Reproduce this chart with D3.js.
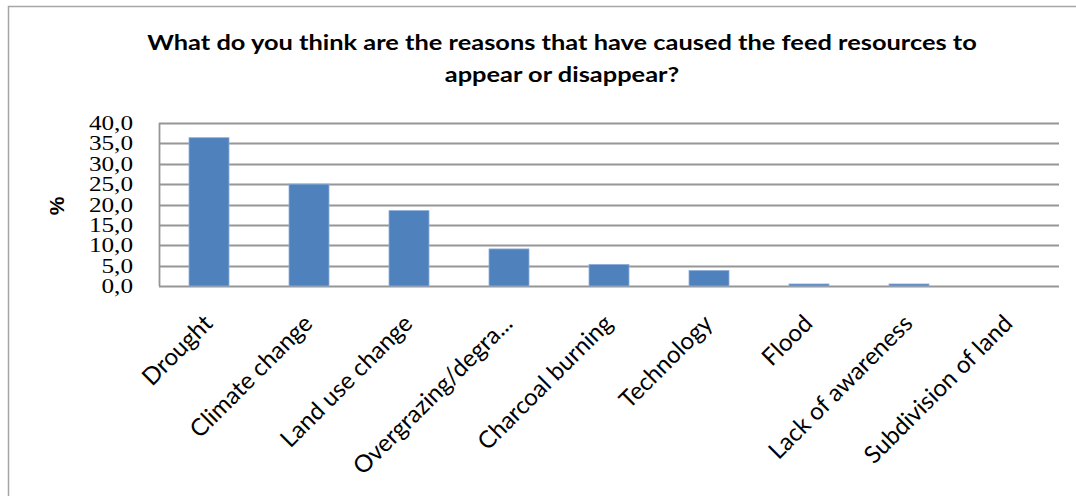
<!DOCTYPE html>
<html>
<head>
<meta charset="utf-8">
<script src="https://cdn.jsdelivr.net/npm/d3@7"></script>
<style>
  html, body { margin: 0; padding: 0; background: #fff; }
  svg { display: block; }
</style>
</head>
<body>
<svg id="chart" width="1076" height="496"></svg>
<script>
const categories = ["Drought", "Climate change", "Land use change", "Overgrazing/degra...", "Charcoal burning", "Technology", "Flood", "Lack of awareness", "Subdivision of land"];
const values = [36.4, 25.0, 18.5, 9.1, 5.3, 3.8, 0.5, 0.5, 0.0];
const yTicks = [0, 5, 10, 15, 20, 25, 30, 35, 40];
const titleLines = ["What do you think are the reasons that have caused the feed resources to", "appear or disappear?"];
const yAxisTitle = "%";

const svg = d3.select("#chart");
const W = 1076, H = 496;
const plot = { left: 159, right: 1059, top: 123, bottom: 286 };

// outer chart border
svg.append("rect")
  .attr("x", 8.5).attr("y", 6.5)
  .attr("width", W + 20).attr("height", H + 20)
  .attr("fill", "#fff").attr("stroke", "#a6a6a6").attr("stroke-width", 1.5);

const x = d3.scaleBand().domain(categories).range([plot.left, plot.right])
  .paddingInner(0.6).paddingOuter(0.3);
const y = d3.scaleLinear().domain([0, 40]).range([plot.bottom, plot.top]);

// gridlines
svg.append("g").selectAll("line").data(yTicks).join("line")
  .attr("x1", plot.left).attr("x2", plot.right)
  .attr("y1", d => Math.round(y(d)) + 0.5).attr("y2", d => Math.round(y(d)) + 0.5)
  .attr("stroke", "#969696").attr("stroke-width", 1.8);

// y axis line
svg.append("line")
  .attr("x1", plot.left + 0.5).attr("x2", plot.left + 0.5)
  .attr("y1", plot.top).attr("y2", plot.bottom)
  .attr("stroke", "#969696").attr("stroke-width", 1.8);

// bars
svg.append("g").selectAll("rect").data(values).join("rect")
  .attr("x", (d, i) => x(categories[i]))
  .attr("width", x.bandwidth())
  .attr("y", d => y(d))
  .attr("height", d => y(0) - y(d))
  .attr("fill", "#4f81bd")
  .attr("stroke", "#8fb0db").attr("stroke-width", 0.8)
  .attr("display", d => d > 0 ? null : "none");

// y axis labels (horizontally stretched like the reference)
const yAxis = d3.axisLeft(y).tickValues(yTicks)
  .tickFormat(d => d3.format(".1f")(d).replace(".", ","))
  .tickSize(0).tickPadding(0);
const ya = svg.append("g").attr("transform", `translate(${plot.left - 26},0)`).call(yAxis);
ya.select(".domain").remove();
ya.selectAll(".tick text")
  .attr("font-family", "'Liberation Serif', 'Times New Roman', serif")
  .attr("font-size", 20).attr("fill", "#000").attr("dy", "0.33em")
  .attr("transform", "scale(1.26,1)");

// x labels
svg.append("g").selectAll("text").data(categories).join("text")
  .attr("transform", d => `translate(${x(d) + x.bandwidth() / 2 + 5},${plot.bottom + 39}) rotate(-45)`)
  .attr("text-anchor", "end")
  .attr("font-family", "Lato, 'Open Sans', sans-serif")
  .attr("font-size", 24).attr("fill", "#000")
  .text(d => d);

// y axis title
svg.append("text")
  .attr("transform", `translate(64,206) rotate(-90)`)
  .attr("text-anchor", "middle")
  .attr("font-family", "'Liberation Sans', Arial, sans-serif")
  .attr("font-weight", "bold").attr("font-size", 21)
  .text(yAxisTitle);

// title
svg.append("g").selectAll("text").data(titleLines).join("text")
  .attr("transform", (d, i) => `translate(562,${50 + i * 32}) scale(1.27,1)`)
  .attr("text-anchor", "middle")
  .attr("font-family", "Lato, 'Open Sans', sans-serif")
  .attr("font-weight", "bold").attr("font-size", 20)
  .text(d => d);
</script>
</body>
</html>
